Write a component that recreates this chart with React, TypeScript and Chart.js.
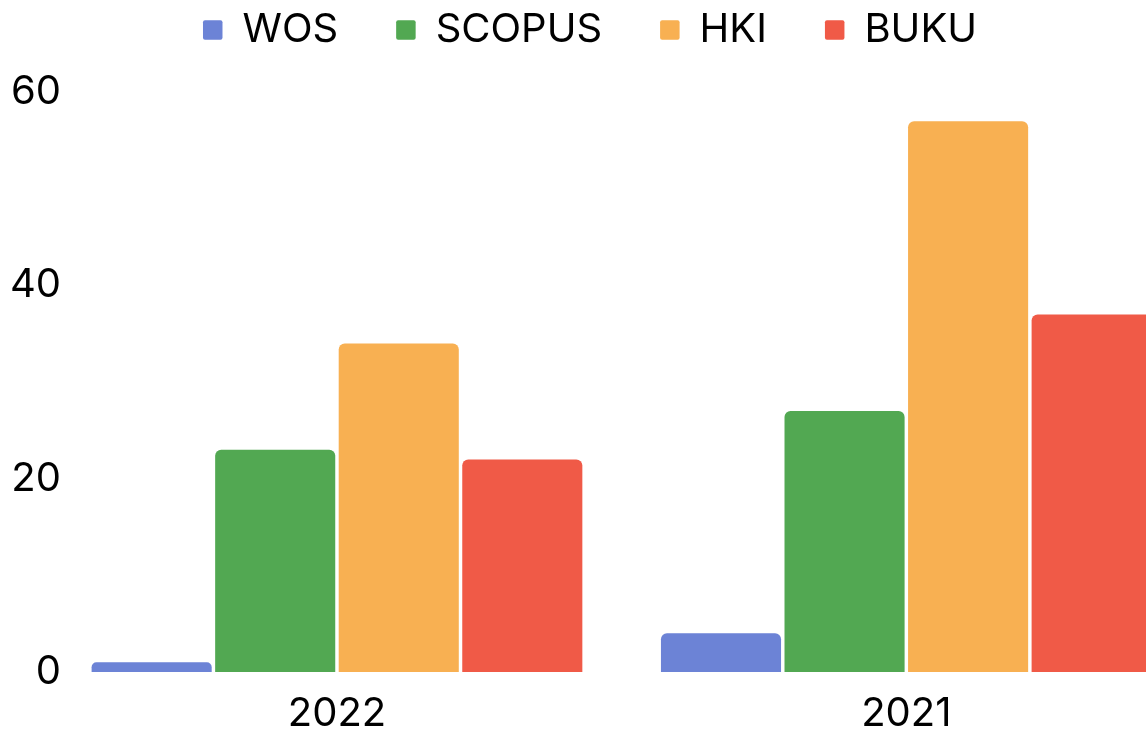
import React, { useEffect, useRef } from "react";
import { Chart, registerables } from "chart.js";

Chart.register(...registerables);

const categories = ["2022", "2021"];
const seriesNames = ["WOS", "SCOPUS", "HKI", "BUKU"];
const wosValues = [1, 4];
const scopusValues = [23, 27];
const hkiValues = [34, 57];
const bukuValues = [22, 37];
const seriesColors = ["#6c83d6", "#52a852", "#f8b052", "#f05a47"];
const yTickMax = 60;
const yTickStep = 20;

const FONT = "Inter, 'Noto Sans', sans-serif";
const CANVAS_W = 1202;
const CANVAS_H = 804;
const CANVAS_LEFT = -11;
const CANVAS_TOP = -48;
const LEGEND_HEIGHT = 140.2;
const Y_AXIS_W = 63.3;
const Y_LABEL_RIGHT = 72;

const legendHeightPlugin = {
  id: "legendHeight",
  beforeLayout(chart: any) {
    const legend = chart.legend;
    if (!legend || legend.__patched) return;
    const orig = legend.fit;
    legend.fit = function () {
      orig.call(this);
      this.height = LEGEND_HEIGHT;
    };
    legend.__patched = true;
  },
};

export default function App() {
  const ref = useRef<HTMLCanvasElement | null>(null);

  useEffect(() => {
    document.body.style.margin = "0";
    const canvas = ref.current;
    if (!canvas) return;
    const mctx = canvas.getContext("2d");
    let widest = 50;
    if (mctx) {
      mctx.font = `40px ${FONT}`;
      widest = Math.max(
        ...[0, 20, 40, 60].map((v) => mctx.measureText(String(v)).width)
      );
    }
    const values = [wosValues, scopusValues, hkiValues, bukuValues];
    const chart = new Chart(canvas, {
      type: "bar",
      data: {
        labels: categories,
        datasets: seriesNames.map((name, i) => ({
          label: name,
          data: values[i],
          backgroundColor: seriesColors[i],
          borderWidth: 0,
          borderSkipped: "start",
          borderRadius: { topLeft: 6, topRight: 6, bottomLeft: 0, bottomRight: 0 },
          categoryPercentage: 0.868,
          barPercentage: 0.972,
        })),
      },
      options: {
        responsive: false,
        devicePixelRatio: 1,
        animation: false,
        layout: { padding: 0 },
        plugins: {
          legend: {
            position: "top",
            labels: {
              font: { family: FONT, size: 40 },
              color: "#000",
              boxWidth: 19.5,
              boxHeight: 19.5,
              useBorderRadius: true,
              borderRadius: 2,
              padding: 58,
            },
          },
          tooltip: { enabled: false },
        },
        scales: {
          x: {
            grid: { display: false, drawTicks: false },
            border: { display: false },
            ticks: {
              font: { family: FONT, size: 40 },
              color: "#000",
              padding: 18,
            },
          },
          y: {
            min: 0,
            max: yTickMax,
            grid: { display: false, drawTicks: false },
            border: { display: false },
            ticks: {
              stepSize: yTickStep,
              font: { family: FONT, size: 40 },
              color: "#000",
              mirror: true,
              crossAlign: "far",
              padding: Y_LABEL_RIGHT - Y_AXIS_W - widest,
            },
            afterFit(scale: any) {
              scale.width = Y_AXIS_W;
            },
          },
        },
      },
      plugins: [legendHeightPlugin],
    });
    return () => chart.destroy();
  }, []);

  return (
    <div style={{ position: "relative", width: 1146, height: 729, overflow: "hidden", background: "#fff" }}>
      <canvas
        ref={ref}
        width={CANVAS_W}
        height={CANVAS_H}
        style={{ position: "absolute", left: CANVAS_LEFT, top: CANVAS_TOP, width: CANVAS_W, height: CANVAS_H }}
      />
    </div>
  );
}
